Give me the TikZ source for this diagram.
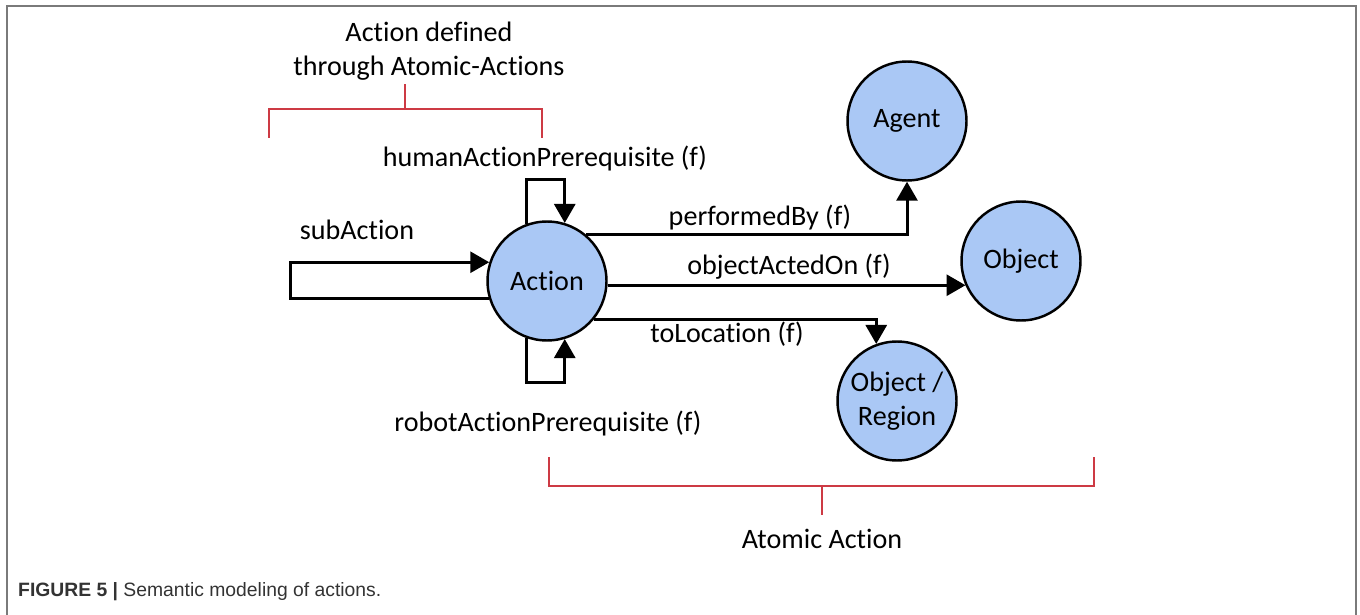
\documentclass[tikz,border=0pt]{standalone}
\usepackage{fontspec}
\setmainfont{Carlito}[Ligatures=NoCommon]
\newfontfamily\capfont{Liberation Sans}
\usetikzlibrary{arrows.meta}
\definecolor{nodeblue}{HTML}{AAC8F5}
\definecolor{bracketred}{HTML}{CD3A44}
\definecolor{framegray}{HTML}{7A7A7A}

\tikzset{
  concept/.style={circle, draw, line width=1.4pt, fill=nodeblue, minimum size=2.38cm,
    inner sep=0pt, align=center, font=\fontsize{16}{19}\selectfont},
  flow/.style={line width=1.7pt, -{Triangle[length=0.38cm,width=0.42cm]}},
  rel/.style={font=\fontsize{16}{19}\selectfont},
  brace/.style={bracketred, line width=1.1pt},
}

\begin{document}
\begin{tikzpicture}[x=0.02cm, y=-0.02cm]
  \useasboundingbox (0,0) rectangle (1360,615);
  % Cadre
  \draw[framegray, line width=0.9pt] (7,615) -- (7,6) -- (1356,6) -- (1356,615);

  % Noeuds
  \node[concept] (act) at (547,281) {Action};
  \node[concept] (agent) at (907,121) {Agent};
  \node[concept] (obj) at (1021,261) {Object};
  \node[concept] (reg) at (897,401) {Object /\\Region};

  % Relations
  \draw[flow] (act.50) -| (agent.south);
  \draw[flow] (act.-4) -- (act.-4 -| obj.204);
  \draw[flow] (act.-39) -| (reg.110);
  \draw[flow] (act.110) -- ++(0,-44) -| (act.73);
  \draw[flow] (act.250) -- ++(0,44) -| (act.287);
  \draw[flow] (act.197) -- ++(-198,0) |- (act.162);

  % Etiquettes
  \node[rel] (lperf) at (760,217) {performedBy (f)};
  \node[rel] (lobj) at (789,267) {objectActedOn (f)};
  \node[rel] (lloc) at (727,334) {toLocation (f)};
  \node[rel] (lhum) at (545,158) {humanActionPrerequisite (f)};
  \node[rel] (lrob) at (548,423) {robotActionPrerequisite (f)};
  \node[rel] (lsub) at (357,230) {subAction};

  % Accolades
  \draw[brace] (269,138) -- (269,109) -- (542,109) -- (542,138);
  \draw[brace] (405,109) -- (405,84);
  \node[rel, align=center] (ldef) at (429,51)
    {Action defined\\through Atomic-Actions};
  \draw[brace] (549,457) -- (549,486) -- (1094,486) -- (1094,457);
  \draw[brace] (822,486) -- (822,515);
  \node[rel] (latom) at (822,539) {Atomic Action};

  % Legende
  \node[anchor=west, font=\capfont\fontsize{11}{13}\selectfont, text=black!80] (cap) at (12,592)
    {\textbf{FIGURE 5 |} Semantic modeling of actions.};
\end{tikzpicture}
\end{document}
